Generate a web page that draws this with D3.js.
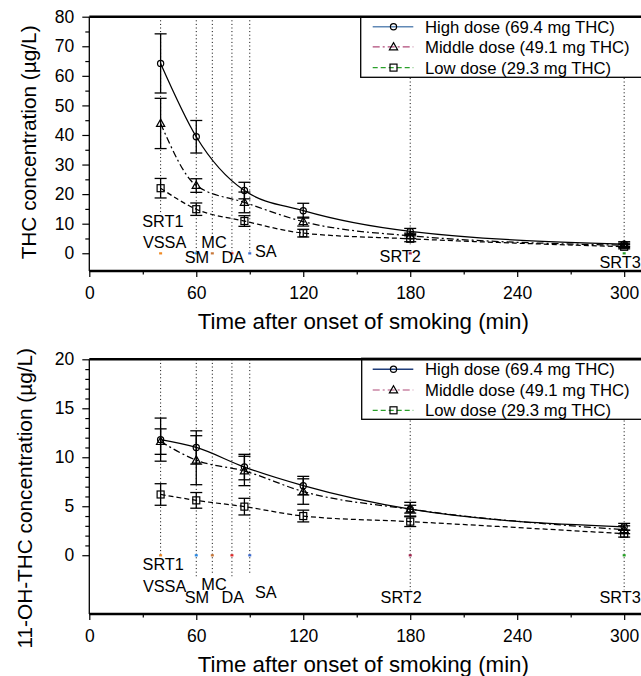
<!DOCTYPE html>
<html><head><meta charset="utf-8">
<script src="https://cdn.jsdelivr.net/npm/d3@7"></script>
<style>body{margin:0;background:#fff} svg{display:block;font-family:"Liberation Sans",Arial,Helvetica,sans-serif}</style>
</head><body><svg id="c" width="641" height="676"></svg>
<script>
// ---------- data ----------
const times = [40, 60, 87, 120, 180, 300];
const thcHigh = [64.2, 39.4, 21.2, 14.4, 7.4, 3.1];
const thcHighErr = [10.0, 5.5, 2.8, 2.5, 1.0, 0.8];
const thcMid = [43.9, 22.9, 17.2, 10.7, 5.9, 2.7];
const thcMidErr = [8.5, 2.3, 3.5, 1.5, 0.9, 0.7];
const thcLow = [22.0, 14.9, 10.9, 6.8, 4.9, 2.2];
const thcLowErr = [3.3, 2.1, 1.8, 1.3, 1.0, 0.7];
const ohHigh = [11.8, 11.0, 9.0, 7.1, 4.7, 2.9];
const ohHighErr = [2.2, 1.7, 1.3, 0.95, 0.7, 0.35];
const ohMid = [11.6, 9.7, 8.6, 6.5, 4.7, 2.6];
const ohMidErr = [1.3, 2.5, 1.5, 1.3, 0.4, 0.4];
const ohLow = [6.2, 5.6, 4.96, 4.0, 3.43, 2.2];
const ohLowErr = [1.1, 0.8, 0.85, 0.6, 0.5, 0.35];
const seriesNames = ["High dose (69.4 mg THC)", "Middle dose (49.1 mg THC)", "Low dose (29.3 mg THC)"];
const eventNames = ["SRT1", "VSSA", "SM", "MC", "DA", "SA", "SRT2", "SRT3"];
const eventTimes = [40, 40, 60, 69, 80, 90, 180, 300];
const eventLineTimes = [40, 60, 69, 80, 90, 180, 300];
const xTicks = [0, 60, 120, 180, 240, 300];
const xMinorTicks = [30, 90, 150, 210, 270];
const thcTicks = [0, 10, 20, 30, 40, 50, 60, 70, 80];
const thcMinorTicks = [5, 15, 25, 35, 45, 55, 65, 75];
const ohTicks = [0, 5, 10, 15, 20];
const ohMinorTicks = [1, 2, 3, 4, 6, 7, 8, 9, 11, 12, 13, 14, 16, 17, 18, 19];
const yTitles = ["THC concentration (\u00b5g/L)", "11-OH-THC concentration (\u00b5g/L)"];
const xTitle = "Time after onset of smoking (min)";

// ---------- styles / layout ----------
const dashes = [null, "7,3,2,3", "5,3"];
const markerKinds = ["circle", "triangle", "square"];
const eventDotColors = ["#f08a24", "#2a8ae6", "#c8783a", "#e02a2a", "#3a6ad0", "#a0204a", "#22a022"];
const svg = d3.select("#c");
const x = d3.scaleLinear().domain([0, 310]).range([89.3, 642]);

const panels = [
  { yTop: 16.7, yBot: 271, domain: [-6, 80], ticks: thcTicks, minor: thcMinorTicks,
    vals: [thcHigh, thcMid, thcLow], errs: [thcHighErr, thcMidErr, thcLowErr],
    legend: { x: 360.7, y: 16.7, w: 282, h: 60.6, rows: [26.7, 46.9, 67.6] },
    legendColors: ["#6189b6", "#b04a78", "#2aa02a"],
    yTitle: yTitles[0], yTitleX: 36, yTitleC: 142.4,
    labelOff: { SRT1: [2.3, -26.6], VSSA: [4, -5.3], SM: [0.7, 9.4], MC: [1.7, -5.3], DA: [1, 9.4], SA: [16, 3.4], SRT2: [-10, 8.4], SRT3: [-4, 15] },
    lineEnd: { 40: -41, 60: -1, 69: -17, 80: -2, 90: -2, 180: -9, 300: -4 } },
  { yTop: 359.3, yBot: 614, domain: [-6, 20], ticks: ohTicks, minor: ohMinorTicks,
    vals: [ohHigh, ohMid, ohLow], errs: [ohHighErr, ohMidErr, ohLowErr],
    legend: { x: 361.7, y: 358.3, w: 281, h: 61, rows: [369.3, 390, 410.3] },
    legendColors: ["#1f3d7a", "#b04a78", "#2aa02a"],
    yTitle: yTitles[1], yTitleX: 31.5, yTitleC: 498.3,
    labelOff: { SRT1: [2.6, 14.7], VSSA: [4, 36.4], SM: [0.7, 48], MC: [1.7, 34.7], DA: [1, 47.7], SA: [16, 42.7], SRT2: [-9, 48], SRT3: [-4, 47.7] },
    lineEnd: { 40: 0, 60: 21, 69: 20, 80: 21, 90: 20, 180: 35, 300: 35 } }
];

function marker(g, kind, cx, cy) {
  if (kind === "circle") g.append("circle").attr("cx", cx).attr("cy", cy).attr("r", 3.1)
      .attr("fill", "none").attr("stroke", "#000").attr("stroke-width", 1.2);
  else if (kind === "square") g.append("rect").attr("x", cx - 3.5).attr("y", cy - 3.5).attr("width", 7).attr("height", 7)
      .attr("fill", "none").attr("stroke", "#000").attr("stroke-width", 1.2);
  else g.append("path").attr("d", `M${cx},${cy - 4.3}L${cx + 4.1},${cy + 2.9}L${cx - 4.1},${cy + 2.9}Z`)
      .attr("fill", "none").attr("stroke", "#000").attr("stroke-width", 1.2);
}

panels.forEach(p => {
  const y = d3.scaleLinear().domain(p.domain).range([p.yBot, p.yTop]);
  const g = svg.append("g");
  const y0 = y(0);

  // event lines
  eventLineTimes.forEach((t, i) => {
    g.append("line").attr("x1", x(t)).attr("x2", x(t)).attr("y1", p.yTop).attr("y2", y0 + p.lineEnd[t])
      .attr("stroke", "#000").attr("stroke-width", 1).attr("stroke-dasharray", "1,2.6");
    g.append("rect").attr("x", x(t) - 1.5).attr("y", y0 - 1).attr("width", 3).attr("height", 2.2)
      .attr("fill", eventDotColors[i]);
  });

  // series
  p.vals.forEach((vals, si) => {
    const pts = times.map((t, i) => [t, vals[i], p.errs[si][i]]);
    g.append("path").datum(pts)
      .attr("d", d3.line().x(d => x(d[0])).y(d => y(d[1])).curve(d3.curveMonotoneX))
      .attr("fill", "none").attr("stroke", "#000").attr("stroke-width", 1.25)
      .attr("stroke-dasharray", dashes[si]);
    pts.forEach(d => {
      const cx = x(d[0]);
      g.append("line").attr("x1", cx).attr("x2", cx).attr("y1", y(d[1] - d[2])).attr("y2", y(d[1] + d[2]))
        .attr("stroke", "#000").attr("stroke-width", 1.3);
      [d[1] - d[2], d[1] + d[2]].forEach(v => g.append("line").attr("x1", cx - 6).attr("x2", cx + 6)
        .attr("y1", y(v)).attr("y2", y(v)).attr("stroke", "#000").attr("stroke-width", 1.3));
      marker(g, markerKinds[si], cx, y(d[1]));
    });
  });

  // event labels
  eventNames.forEach((n, i) => {
    const o = p.labelOff[n];
    g.append("text").attr("x", x(eventTimes[i]) + o[0]).attr("y", y0 + o[1])
      .attr("text-anchor", "middle").attr("font-size", 16.3).text(n);
  });

  // axes
  const xa = g.append("g").attr("transform", `translate(0,${p.yBot})`)
    .call(d3.axisBottom(x).tickValues(xTicks).tickSize(6).tickPadding(10).tickFormat(d3.format("d")));
  const xm = g.append("g").attr("transform", `translate(0,${p.yBot})`)
    .call(d3.axisBottom(x).tickValues(xMinorTicks).tickSize(3.5).tickFormat(""));
  const ya = g.append("g").attr("transform", `translate(${x(0)},0)`)
    .call(d3.axisLeft(y).tickValues(p.ticks).tickSize(7).tickPadding(8).tickFormat(d3.format("d")));
  const ym = g.append("g").attr("transform", `translate(${x(0)},0)`)
    .call(d3.axisLeft(y).tickValues(p.minor).tickSize(4).tickFormat(""));
  [xa, xm, ya, ym].forEach(a => {
    a.select(".domain").remove();
    a.selectAll("line").attr("stroke-width", 1.2);
    a.selectAll("text").attr("font-size", 17.5).attr("font-family", null).attr("fill", "#000");
  });

  // legend
  const L = p.legend;
  g.append("rect").attr("x", L.x).attr("y", L.y).attr("width", L.w).attr("height", L.h)
    .attr("fill", "#fff").attr("stroke", "#000").attr("stroke-width", 1.3);
  seriesNames.forEach((name, si) => {
    const ry = L.rows[si];
    g.append("line").attr("x1", 372.7).attr("x2", 413.3).attr("y1", ry).attr("y2", ry)
      .attr("stroke", p.legendColors[si]).attr("stroke-width", si === 0 ? 1.6 : 1.2).attr("stroke-dasharray", dashes[si]);
    marker(g, markerKinds[si], 393.5, ry);
    g.append("text").attr("x", 425).attr("y", ry + 6).attr("font-size", 16.7).text(name);
  });

  // frame lines
  g.append("line").attr("x1", x(0)).attr("x2", 642).attr("y1", p.yBot).attr("y2", p.yBot)
    .attr("stroke", "#000").attr("stroke-width", 2.5);
  g.append("line").attr("x1", x(0)).attr("x2", 642).attr("y1", p.yTop).attr("y2", p.yTop)
    .attr("stroke", "#000").attr("stroke-width", 2.5);
  g.append("line").attr("x1", x(0)).attr("x2", x(0)).attr("y1", p.yTop).attr("y2", p.yBot)
    .attr("stroke", "#000").attr("stroke-width", 1.3);

  // titles
  g.append("text").attr("x", 363.3).attr("y", p.yBot + 57.5).attr("text-anchor", "middle")
    .attr("font-size", 22.3).text(xTitle);
  g.append("text").attr("transform", `translate(${p.yTitleX},${p.yTitleC}) rotate(-90)`)
    .attr("text-anchor", "middle").attr("font-size", 20.8).text(p.yTitle);
});
</script></body></html>
